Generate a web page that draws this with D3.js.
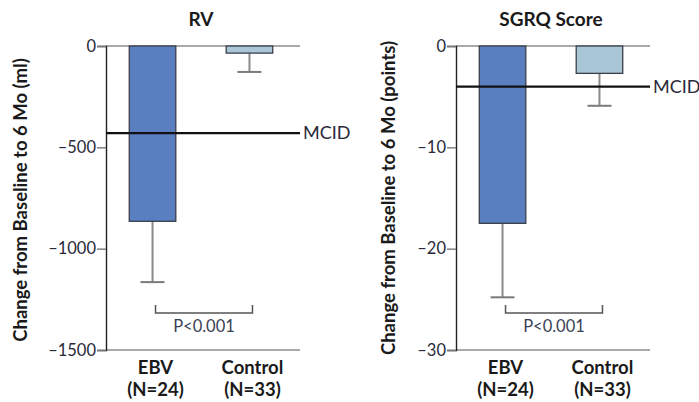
<!DOCTYPE html>
<html>
<head>
<meta charset="utf-8">
<script src="https://cdnjs.cloudflare.com/ajax/libs/d3/7.8.5/d3.min.js"></script>
<style>
  body { margin: 0; background: #fff; }
  svg { display: block; }
  text { font-family: Lato, "Open Sans", sans-serif; }
</style>
</head>
<body>
<svg id="chart" width="699" height="402"></svg>
<script>
// Groups and sample sizes
const groups = ["EBV", "Control"];
const groupN = ["(N=24)", "(N=33)"];

// RV: mean change from baseline (ml) and lower error limit
const rvMeans = [-865, -35];
const rvLower = [-1165, -128];
const rvMcid = -430;
const rvTicks = [0, -500, -1000, -1500];

// SGRQ: mean change from baseline (points) and lower error limit
const sgrqMeans = [-17.5, -2.7];
const sgrqLower = [-24.8, -5.9];
const sgrqMcid = -4;
const sgrqTicks = [0, -10, -20, -30];

const pLabel = "P<0.001";
const barColors = ["#5a7fc1", "#a9c6d6"];

const svg = d3.select("#chart");

function panel(opts) {
  const g = svg.append("g").attr("transform", `translate(${opts.left},0)`);
  const plotW = 194, top = 46, bottom = 350;

  const y = d3.scaleLinear().domain(opts.domain).range([top, bottom]);
  const x = d3.scaleBand().domain(groups).range([0, 190]).paddingInner(0.52).paddingOuter(0.24);

  // title
  g.append("text").attr("x", 95).attr("y", 26).attr("text-anchor", "middle")
    .attr("font-weight", 700).attr("font-size", 19).attr("fill", "#1a1a1a").text(opts.title);

  // y-axis label
  g.append("text")
    .attr("transform", `translate(${opts.labelX},${(top + bottom) / 2 + opts.labelDy}) rotate(-90)`)
    .attr("text-anchor", "middle").attr("font-weight", 700).attr("font-size", 18.5)
    .attr("fill", "#1a1a1a").text(opts.yLabel);

  // horizontal baseline at 0 and bottom axis line
  g.append("line").attr("x1", 0).attr("x2", plotW).attr("y1", y(0)).attr("y2", y(0))
    .attr("stroke", "#8c8c8c").attr("stroke-width", 1.6);
  g.append("line").attr("x1", 0).attr("x2", plotW).attr("y1", y(opts.domain[1])).attr("y2", y(opts.domain[1]))
    .attr("stroke", "#8c8c8c").attr("stroke-width", 1.6);

  // y axis
  const axis = d3.axisLeft(y).tickValues(opts.ticks).tickSize(9).tickPadding(1)
    .tickFormat(d => d < 0 ? "\u2013" + Math.abs(d) : String(d));
  const ag = g.append("g").call(axis);
  ag.select(".domain").attr("stroke", "#222").attr("stroke-width", 1.4);
  ag.selectAll(".tick line").attr("stroke", "#777").attr("stroke-width", 1.4);
  ag.selectAll(".tick text").attr("font-size", 16.5).attr("fill", "#2a2a3a")
    .attr("font-family", "Lato, 'Open Sans', sans-serif");

  // error bars
  groups.forEach((grp, i) => {
    const cx = x(grp) + x.bandwidth() / 2;
    g.append("line").attr("x1", cx).attr("x2", cx).attr("y1", y(opts.means[i])).attr("y2", y(opts.lower[i]))
      .attr("stroke", "#8a8a8a").attr("stroke-width", 2);
    g.append("line").attr("x1", cx - 12).attr("x2", cx + 12).attr("y1", y(opts.lower[i])).attr("y2", y(opts.lower[i]))
      .attr("stroke", "#7a7a7a").attr("stroke-width", 2);
  });

  // bars
  g.selectAll("rect.bar").data(groups).enter().append("rect")
    .attr("class", "bar")
    .attr("x", d => x(d)).attr("width", x.bandwidth())
    .attr("y", y(0)).attr("height", (d, i) => y(opts.means[i]) - y(0))
    .attr("fill", (d, i) => barColors[i]).attr("stroke", "#3a3f4a").attr("stroke-width", 1.3);

  // MCID line
  g.append("line").attr("x1", 0).attr("x2", plotW).attr("y1", y(opts.mcid)).attr("y2", y(opts.mcid))
    .attr("stroke", "#111").attr("stroke-width", 2.2);
  g.append("text").attr("x", plotW + 3).attr("y", y(opts.mcid) + 6)
    .attr("font-size", 18).attr("fill", "#2a2a3a").text("MCID");

  // significance bracket
  const bx1 = x(groups[0]) + x.bandwidth() / 2 + 3;
  const bx2 = x(groups[1]) + x.bandwidth() / 2 + 3;
  const by = 313;
  g.append("path").attr("d", `M${bx1},${by - 8}V${by}H${bx2}V${by - 8}`)
    .attr("fill", "none").attr("stroke", "#555").attr("stroke-width", 1.5);
  g.append("text").attr("x", (bx1 + bx2) / 2).attr("y", 332).attr("text-anchor", "middle")
    .attr("font-size", 16.5).attr("fill", "#3a3f55").text(pLabel);

  // category labels
  groups.forEach((grp, i) => {
    const cx = x(grp) + x.bandwidth() / 2 + 3;
    g.append("text").attr("x", cx).attr("y", 374).attr("text-anchor", "middle")
      .attr("font-weight", 700).attr("font-size", 18.5).attr("fill", "#1a1a1a").text(grp);
    g.append("text").attr("x", cx).attr("y", 396).attr("text-anchor", "middle")
      .attr("font-weight", 700).attr("font-size", 18.5).attr("fill", "#1a1a1a").text(groupN[i]);
  });
}

panel({ left: 106, title: "RV", yLabel: "Change from Baseline to 6 Mo (ml)", labelX: -79, labelDy: 2,
  domain: [0, -1500], ticks: rvTicks, means: rvMeans, lower: rvLower, mcid: rvMcid });
panel({ left: 456, title: "SGRQ Score", yLabel: "Change from Baseline to 6 Mo (points)", labelX: -61, labelDy: 0,
  domain: [0, -30], ticks: sgrqTicks, means: sgrqMeans, lower: sgrqLower, mcid: sgrqMcid });
</script>
</body>
</html>
